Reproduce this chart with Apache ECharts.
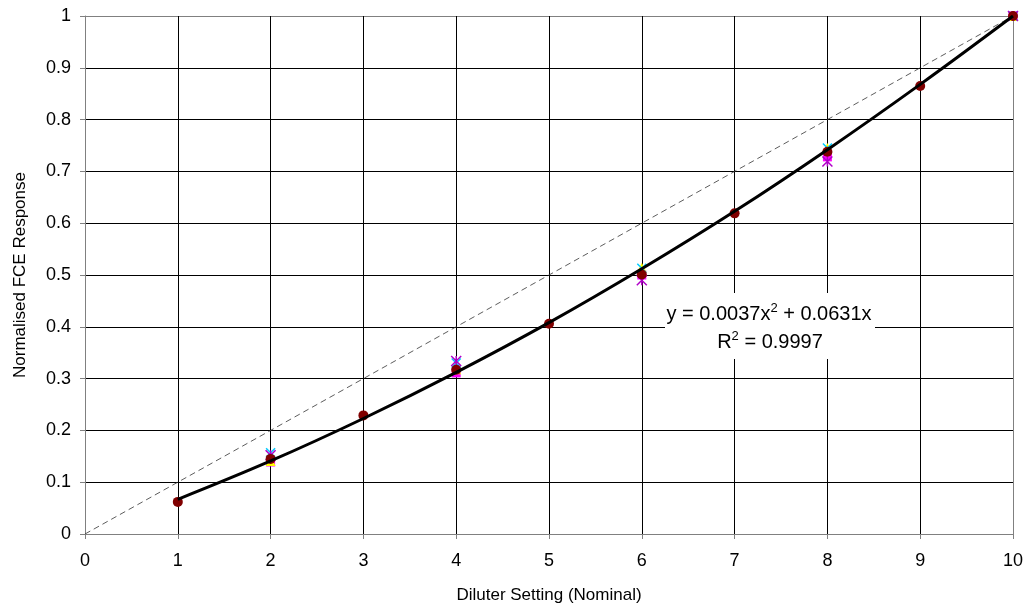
<!DOCTYPE html>
<html>
<head>
<meta charset="utf-8">
<script src="https://cdn.jsdelivr.net/npm/echarts@6/dist/echarts.min.js"></script>
<style>
  html, body { margin: 0; padding: 0; background: #fff; }
  #chart { width: 1029px; height: 612px; }
</style>
</head>
<body>
<div id="chart"></div>
<script>
  // settings 1..10, each run normalised to setting 10
  const settings = [1, 2, 3, 4, 5, 6, 7, 8, 9, 10];
  const meanY = [0.062, 0.145, 0.229, 0.317, 0.406, 0.501, 0.619, 0.738, 0.865, 1.0];
  // repeat runs only at even settings
  const evenSettings = [2, 4, 6, 8, 10];
  const run1Y = [0.139, 0.311, 0.500, 0.728, 1.0];   // squares
  const run2Y = [0.141, 0.318, 0.514, 0.745, 1.0];   // triangles
  const run3Y = [0.157, 0.330, 0.513, 0.745, 1.0];   // crosses
  const run4Y = [0.152, 0.334, 0.490, 0.719, 1.0];   // stars
  // polynomial trendline
  const trendY = [0.067, 0.141, 0.223, 0.312, 0.408, 0.512, 0.623, 0.742, 0.868, 1.0];
  // 1:1 reference line
  const idealX = [0, 10];
  const idealY = [0, 1];

  const FONT = 'Liberation Sans, Arial, sans-serif';
  const zip = (xs, ys) => xs.map((x, i) => [x, ys[i]]);

  // border lines (first/last) gray, inner grid lines black
  const gridColors = ['#808080', '#000', '#000', '#000', '#000', '#000', '#000', '#000', '#000', '#000', '#808080'];

  // rich text styles for the trendline label (superscript 2)
  const eqRich = {
    n: { fontSize: 20, fontFamily: FONT, color: '#000', lineHeight: 24 },
    s: { fontSize: 13, fontFamily: FONT, color: '#000', lineHeight: 24, verticalAlign: 'top' }
  };

  let myChart = echarts.init(document.getElementById('chart'));
  let option = {
    animation: false,
    textStyle: { fontFamily: FONT },
    grid: {
      left: 85,
      right: 16,
      top: 16,
      bottom: 78
    },
    xAxis: {
      type: 'value',
      min: 0,
      max: 10,
      interval: 1,
      name: 'Diluter Setting (Nominal)',
      nameLocation: 'middle',
      nameGap: 53,
      nameTextStyle: { color: '#000', fontSize: 17, fontFamily: FONT },
      axisLine: { lineStyle: { color: '#808080', width: 1 } },
      axisTick: { show: true, inside: false, length: 5, lineStyle: { color: '#808080' } },
      axisLabel: { color: '#000', fontSize: 18, margin: 18, fontFamily: FONT },
      splitLine: { show: true, lineStyle: { color: gridColors, width: 1 } }
    },
    yAxis: {
      type: 'value',
      min: 0,
      max: 1,
      interval: 0.1,
      name: 'Normalised FCE Response',
      nameLocation: 'middle',
      nameGap: 56,
      nameTextStyle: { color: '#000', fontSize: 17, fontFamily: FONT },
      axisLine: { show: true, lineStyle: { color: '#808080', width: 1 } },
      axisTick: { show: true, inside: false, length: 5, lineStyle: { color: '#808080' } },
      axisLabel: { color: '#000', fontSize: 18, margin: 14, fontFamily: FONT },
      splitLine: { show: true, lineStyle: { color: gridColors, width: 1 } }
    },
    series: [
      {
        name: 'ideal',
        type: 'line',
        data: zip(idealX, idealY),
        symbol: 'none',
        lineStyle: { color: '#333', width: 0.8, type: [6, 4] },
        z: 2
      },
      {
        name: 'run 1',
        type: 'scatter',
        data: zip(evenSettings, run1Y),
        symbol: 'rect',
        symbolSize: 9,
        itemStyle: { color: '#FF00FF', opacity: 1 },
        z: 3
      },
      {
        name: 'run 2',
        type: 'scatter',
        data: zip(evenSettings, run2Y),
        symbol: 'triangle',
        symbolSize: 10,
        itemStyle: { color: '#FFFF00', opacity: 1 },
        z: 4
      },
      {
        name: 'run 3',
        type: 'scatter',
        data: zip(evenSettings, run3Y),
        symbol: 'path://M0,0L10,10M0,10L10,0',
        symbolSize: 9,
        itemStyle: { color: 'rgba(0,0,0,0)', borderColor: '#00CCFF', borderWidth: 1.5, opacity: 1 },
        z: 5
      },
      {
        name: 'run 4',
        type: 'scatter',
        data: zip(evenSettings, run4Y),
        symbol: 'path://M0,0L10,10M0,10L10,0M5,0L5,10',
        symbolSize: 10,
        itemStyle: { color: 'rgba(0,0,0,0)', borderColor: '#B000C8', borderWidth: 1.5, opacity: 1 },
        z: 6
      },
      {
        name: 'mean',
        type: 'scatter',
        data: zip(settings, meanY),
        symbol: 'circle',
        symbolSize: 10,
        itemStyle: { color: '#800000', opacity: 1 },
        z: 7
      },
      {
        name: 'trend',
        type: 'line',
        data: zip(settings, trendY),
        smooth: 0.4,
        symbol: 'none',
        lineStyle: { color: '#000', width: 3 },
        z: 8
      }
    ],
    graphic: [
      {
        type: 'rect',
        left: 665,
        top: 293,
        z: 100,
        shape: { width: 210, height: 66 },
        style: { fill: '#fff' }
      },
      {
        type: 'text',
        z: 101,
        x: 769,
        y: 314,
        style: {
          text: '{n|y = 0.0037x}{s|2}{n| + 0.0631x}',
          rich: eqRich,
          align: 'center',
          verticalAlign: 'middle'
        }
      },
      {
        type: 'text',
        z: 101,
        x: 770,
        y: 342,
        style: {
          text: '{n|R}{s|2}{n| = 0.9997}',
          rich: eqRich,
          align: 'center',
          verticalAlign: 'middle'
        }
      }
    ]
  };
  myChart.setOption(option);
</script>
</body>
</html>
